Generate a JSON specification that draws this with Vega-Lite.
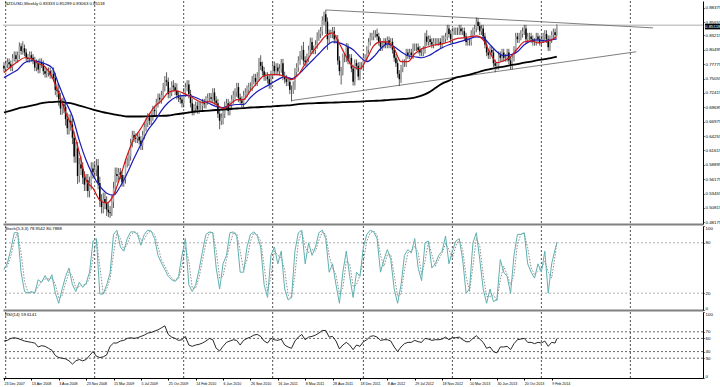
{
"$schema":"https://vega.github.io/schema/vega-lite/v6.json",
"padding":0,
"background":"white",
"spacing":0,
"config":{"view":{"stroke":null},"font":"Liberation Sans","axis":{"grid":false,"labelFont":"Liberation Sans","labelColor":"#000","tickColor":"#000","domainColor":"#000","labelFontSize":4.4,"tickSize":1,"labelPadding":1,"labelOverlap":false}},
"datasets":{
"vg":[{"d":"2007-12-30"},{"d":"2008-12-28"},{"d":"2009-12-27"},{"d":"2010-12-26"},{"d":"2012-01-01"},{"d":"2012-12-30"},{"d":"2013-12-29"},{"d":"2014-12-28"}],
"tl":[{"t":"up","d":"2011-07-31","p":0.880},{"t":"up","d":"2015-03-31","p":0.8463},{"t":"lo","d":"2011-03-13","p":0.7098},{"t":"lo","d":"2015-01-21","p":0.8015}],
"ohlc":[
{"d":"2007-12-23","o":0.775,"h":0.782,"l":0.763,"c":0.770},
{"d":"2007-12-30","o":0.770,"h":0.785,"l":0.763,"c":0.778},
{"d":"2008-01-06","o":0.778,"h":0.789,"l":0.771,"c":0.782},
{"d":"2008-01-13","o":0.782,"h":0.789,"l":0.771,"c":0.778},
{"d":"2008-01-20","o":0.778,"h":0.785,"l":0.765,"c":0.772},
{"d":"2008-01-27","o":0.772,"h":0.797,"l":0.765,"c":0.790},
{"d":"2008-02-03","o":0.790,"h":0.802,"l":0.783,"c":0.795},
{"d":"2008-02-10","o":0.795,"h":0.802,"l":0.781,"c":0.788},
{"d":"2008-02-17","o":0.788,"h":0.802,"l":0.781,"c":0.795},
{"d":"2008-02-24","o":0.795,"h":0.819,"l":0.788,"c":0.812},
{"d":"2008-03-02","o":0.812,"h":0.817,"l":0.796,"c":0.803},
{"d":"2008-03-09","o":0.803,"h":0.821,"l":0.796,"c":0.808},
{"d":"2008-03-16","o":0.808,"h":0.815,"l":0.793,"c":0.800},
{"d":"2008-03-23","o":0.800,"h":0.807,"l":0.783,"c":0.790},
{"d":"2008-03-30","o":0.790,"h":0.797,"l":0.781,"c":0.788},
{"d":"2008-04-06","o":0.788,"h":0.802,"l":0.781,"c":0.795},
{"d":"2008-04-13","o":0.795,"h":0.802,"l":0.783,"c":0.790},
{"d":"2008-04-20","o":0.790,"h":0.797,"l":0.778,"c":0.785},
{"d":"2008-04-27","o":0.785,"h":0.792,"l":0.765,"c":0.772},
{"d":"2008-05-04","o":0.772,"h":0.787,"l":0.765,"c":0.780},
{"d":"2008-05-11","o":0.780,"h":0.787,"l":0.761,"c":0.768},
{"d":"2008-05-18","o":0.768,"h":0.789,"l":0.761,"c":0.782},
{"d":"2008-05-25","o":0.782,"h":0.789,"l":0.771,"c":0.778},
{"d":"2008-06-01","o":0.778,"h":0.785,"l":0.758,"c":0.765},
{"d":"2008-06-08","o":0.765,"h":0.772,"l":0.753,"c":0.760},
{"d":"2008-06-15","o":0.760,"h":0.769,"l":0.753,"c":0.762},
{"d":"2008-06-22","o":0.762,"h":0.772,"l":0.755,"c":0.765},
{"d":"2008-06-29","o":0.765,"h":0.772,"l":0.751,"c":0.758},
{"d":"2008-07-06","o":0.758,"h":0.767,"l":0.751,"c":0.760},
{"d":"2008-07-13","o":0.760,"h":0.772,"l":0.745,"c":0.752},
{"d":"2008-07-20","o":0.752,"h":0.762,"l":0.720,"c":0.730},
{"d":"2008-07-27","o":0.730,"h":0.742,"l":0.716,"c":0.728},
{"d":"2008-08-03","o":0.728,"h":0.740,"l":0.700,"c":0.712},
{"d":"2008-08-10","o":0.712,"h":0.724,"l":0.683,"c":0.695},
{"d":"2008-08-17","o":0.695,"h":0.715,"l":0.683,"c":0.703},
{"d":"2008-08-24","o":0.703,"h":0.715,"l":0.686,"c":0.698},
{"d":"2008-08-31","o":0.698,"h":0.710,"l":0.663,"c":0.675},
{"d":"2008-09-07","o":0.675,"h":0.687,"l":0.646,"c":0.658},
{"d":"2008-09-14","o":0.658,"h":0.684,"l":0.646,"c":0.672},
{"d":"2008-09-21","o":0.672,"h":0.684,"l":0.653,"c":0.665},
{"d":"2008-09-28","o":0.665,"h":0.677,"l":0.628,"c":0.640},
{"d":"2008-10-05","o":0.640,"h":0.652,"l":0.593,"c":0.605},
{"d":"2008-10-12","o":0.605,"h":0.632,"l":0.593,"c":0.620},
{"d":"2008-10-19","o":0.620,"h":0.632,"l":0.553,"c":0.568},
{"d":"2008-10-26","o":0.568,"h":0.602,"l":0.556,"c":0.590},
{"d":"2008-11-02","o":0.590,"h":0.605,"l":0.570,"c":0.582},
{"d":"2008-11-09","o":0.582,"h":0.594,"l":0.553,"c":0.565},
{"d":"2008-11-16","o":0.565,"h":0.577,"l":0.540,"c":0.552},
{"d":"2008-11-23","o":0.552,"h":0.572,"l":0.540,"c":0.560},
{"d":"2008-11-30","o":0.560,"h":0.572,"l":0.528,"c":0.540},
{"d":"2008-12-07","o":0.540,"h":0.567,"l":0.528,"c":0.555},
{"d":"2008-12-14","o":0.555,"h":0.594,"l":0.543,"c":0.582},
{"d":"2008-12-21","o":0.582,"h":0.594,"l":0.563,"c":0.575},
{"d":"2008-12-28","o":0.575,"h":0.592,"l":0.563,"c":0.580},
{"d":"2009-01-04","o":0.580,"h":0.600,"l":0.568,"c":0.588},
{"d":"2009-01-11","o":0.588,"h":0.600,"l":0.543,"c":0.555},
{"d":"2009-01-18","o":0.555,"h":0.567,"l":0.510,"c":0.522},
{"d":"2009-01-25","o":0.522,"h":0.534,"l":0.498,"c":0.510},
{"d":"2009-02-01","o":0.510,"h":0.537,"l":0.498,"c":0.525},
{"d":"2009-02-08","o":0.525,"h":0.537,"l":0.506,"c":0.518},
{"d":"2009-02-15","o":0.518,"h":0.530,"l":0.493,"c":0.505},
{"d":"2009-02-22","o":0.505,"h":0.517,"l":0.491,"c":0.500},
{"d":"2009-03-01","o":0.500,"h":0.512,"l":0.4895,"c":0.498},
{"d":"2009-03-08","o":0.498,"h":0.532,"l":0.493,"c":0.520},
{"d":"2009-03-15","o":0.520,"h":0.557,"l":0.508,"c":0.545},
{"d":"2009-03-22","o":0.545,"h":0.584,"l":0.533,"c":0.572},
{"d":"2009-03-29","o":0.572,"h":0.584,"l":0.556,"c":0.568},
{"d":"2009-04-05","o":0.568,"h":0.583,"l":0.560,"c":0.575},
{"d":"2009-04-12","o":0.575,"h":0.583,"l":0.562,"c":0.570},
{"d":"2009-04-19","o":0.570,"h":0.578,"l":0.548,"c":0.556},
{"d":"2009-04-26","o":0.556,"h":0.570,"l":0.548,"c":0.562},
{"d":"2009-05-03","o":0.562,"h":0.600,"l":0.554,"c":0.592},
{"d":"2009-05-10","o":0.592,"h":0.603,"l":0.584,"c":0.595},
{"d":"2009-05-17","o":0.595,"h":0.613,"l":0.587,"c":0.605},
{"d":"2009-05-24","o":0.605,"h":0.638,"l":0.597,"c":0.630},
{"d":"2009-05-31","o":0.630,"h":0.653,"l":0.622,"c":0.645},
{"d":"2009-06-07","o":0.645,"h":0.653,"l":0.632,"c":0.640},
{"d":"2009-06-14","o":0.640,"h":0.648,"l":0.630,"c":0.638},
{"d":"2009-06-21","o":0.638,"h":0.650,"l":0.630,"c":0.642},
{"d":"2009-06-28","o":0.642,"h":0.650,"l":0.627,"c":0.635},
{"d":"2009-07-05","o":0.635,"h":0.643,"l":0.617,"c":0.625},
{"d":"2009-07-12","o":0.625,"h":0.653,"l":0.617,"c":0.645},
{"d":"2009-07-19","o":0.645,"h":0.668,"l":0.637,"c":0.660},
{"d":"2009-07-26","o":0.660,"h":0.676,"l":0.652,"c":0.668},
{"d":"2009-08-02","o":0.668,"h":0.686,"l":0.660,"c":0.678},
{"d":"2009-08-09","o":0.678,"h":0.686,"l":0.664,"c":0.672},
{"d":"2009-08-16","o":0.672,"h":0.688,"l":0.664,"c":0.680},
{"d":"2009-08-23","o":0.680,"h":0.700,"l":0.672,"c":0.692},
{"d":"2009-08-30","o":0.692,"h":0.700,"l":0.682,"c":0.690},
{"d":"2009-09-06","o":0.690,"h":0.713,"l":0.682,"c":0.705},
{"d":"2009-09-13","o":0.705,"h":0.723,"l":0.697,"c":0.715},
{"d":"2009-09-20","o":0.715,"h":0.723,"l":0.704,"c":0.712},
{"d":"2009-09-27","o":0.712,"h":0.728,"l":0.704,"c":0.720},
{"d":"2009-10-04","o":0.720,"h":0.743,"l":0.712,"c":0.735},
{"d":"2009-10-11","o":0.735,"h":0.756,"l":0.727,"c":0.748},
{"d":"2009-10-18","o":0.748,"h":0.763,"l":0.737,"c":0.745},
{"d":"2009-10-25","o":0.745,"h":0.753,"l":0.714,"c":0.722},
{"d":"2009-11-01","o":0.722,"h":0.734,"l":0.714,"c":0.726},
{"d":"2009-11-08","o":0.726,"h":0.746,"l":0.718,"c":0.738},
{"d":"2009-11-15","o":0.738,"h":0.748,"l":0.727,"c":0.735},
{"d":"2009-11-22","o":0.735,"h":0.743,"l":0.720,"c":0.728},
{"d":"2009-11-29","o":0.728,"h":0.742,"l":0.712,"c":0.720},
{"d":"2009-12-06","o":0.720,"h":0.728,"l":0.707,"c":0.715},
{"d":"2009-12-13","o":0.715,"h":0.723,"l":0.704,"c":0.712},
{"d":"2009-12-20","o":0.712,"h":0.720,"l":0.697,"c":0.705},
{"d":"2009-12-27","o":0.705,"h":0.733,"l":0.697,"c":0.725},
{"d":"2010-01-03","o":0.725,"h":0.743,"l":0.717,"c":0.735},
{"d":"2010-01-10","o":0.735,"h":0.748,"l":0.727,"c":0.740},
{"d":"2010-01-17","o":0.740,"h":0.748,"l":0.714,"c":0.722},
{"d":"2010-01-24","o":0.722,"h":0.730,"l":0.697,"c":0.705},
{"d":"2010-01-31","o":0.705,"h":0.713,"l":0.682,"c":0.690},
{"d":"2010-02-07","o":0.690,"h":0.703,"l":0.682,"c":0.695},
{"d":"2010-02-14","o":0.695,"h":0.708,"l":0.687,"c":0.700},
{"d":"2010-02-21","o":0.700,"h":0.708,"l":0.685,"c":0.693},
{"d":"2010-02-28","o":0.693,"h":0.708,"l":0.685,"c":0.700},
{"d":"2010-03-07","o":0.700,"h":0.708,"l":0.692,"c":0.700},
{"d":"2010-03-14","o":0.700,"h":0.713,"l":0.692,"c":0.705},
{"d":"2010-03-21","o":0.705,"h":0.713,"l":0.695,"c":0.703},
{"d":"2010-03-28","o":0.703,"h":0.718,"l":0.695,"c":0.710},
{"d":"2010-04-04","o":0.710,"h":0.723,"l":0.702,"c":0.715},
{"d":"2010-04-11","o":0.715,"h":0.724,"l":0.707,"c":0.716},
{"d":"2010-04-18","o":0.716,"h":0.724,"l":0.705,"c":0.713},
{"d":"2010-04-25","o":0.713,"h":0.733,"l":0.705,"c":0.725},
{"d":"2010-05-02","o":0.725,"h":0.733,"l":0.702,"c":0.710},
{"d":"2010-05-09","o":0.710,"h":0.718,"l":0.697,"c":0.705},
{"d":"2010-05-16","o":0.705,"h":0.713,"l":0.677,"c":0.685},
{"d":"2010-05-23","o":0.685,"h":0.693,"l":0.656,"c":0.672},
{"d":"2010-05-30","o":0.672,"h":0.686,"l":0.664,"c":0.678},
{"d":"2010-06-06","o":0.678,"h":0.693,"l":0.665,"c":0.685},
{"d":"2010-06-13","o":0.685,"h":0.708,"l":0.677,"c":0.700},
{"d":"2010-06-20","o":0.700,"h":0.713,"l":0.692,"c":0.705},
{"d":"2010-06-27","o":0.705,"h":0.713,"l":0.682,"c":0.690},
{"d":"2010-07-04","o":0.690,"h":0.708,"l":0.682,"c":0.700},
{"d":"2010-07-11","o":0.700,"h":0.720,"l":0.692,"c":0.712},
{"d":"2010-07-18","o":0.712,"h":0.728,"l":0.704,"c":0.720},
{"d":"2010-07-25","o":0.720,"h":0.733,"l":0.712,"c":0.725},
{"d":"2010-08-01","o":0.725,"h":0.743,"l":0.717,"c":0.735},
{"d":"2010-08-08","o":0.735,"h":0.743,"l":0.707,"c":0.715},
{"d":"2010-08-15","o":0.715,"h":0.723,"l":0.702,"c":0.710},
{"d":"2010-08-22","o":0.710,"h":0.718,"l":0.697,"c":0.705},
{"d":"2010-08-29","o":0.705,"h":0.728,"l":0.697,"c":0.720},
{"d":"2010-09-05","o":0.720,"h":0.733,"l":0.712,"c":0.725},
{"d":"2010-09-12","o":0.725,"h":0.738,"l":0.717,"c":0.730},
{"d":"2010-09-19","o":0.730,"h":0.743,"l":0.722,"c":0.735},
{"d":"2010-09-26","o":0.735,"h":0.744,"l":0.727,"c":0.736},
{"d":"2010-10-03","o":0.736,"h":0.756,"l":0.728,"c":0.748},
{"d":"2010-10-10","o":0.748,"h":0.760,"l":0.740,"c":0.752},
{"d":"2010-10-17","o":0.752,"h":0.760,"l":0.737,"c":0.745},
{"d":"2010-10-24","o":0.745,"h":0.763,"l":0.737,"c":0.755},
{"d":"2010-10-31","o":0.755,"h":0.790,"l":0.747,"c":0.782},
{"d":"2010-11-07","o":0.782,"h":0.795,"l":0.767,"c":0.775},
{"d":"2010-11-14","o":0.775,"h":0.783,"l":0.757,"c":0.765},
{"d":"2010-11-21","o":0.765,"h":0.773,"l":0.747,"c":0.755},
{"d":"2010-11-28","o":0.755,"h":0.763,"l":0.747,"c":0.755},
{"d":"2010-12-05","o":0.755,"h":0.763,"l":0.742,"c":0.750},
{"d":"2010-12-12","o":0.750,"h":0.758,"l":0.732,"c":0.740},
{"d":"2010-12-19","o":0.740,"h":0.766,"l":0.732,"c":0.758},
{"d":"2010-12-26","o":0.758,"h":0.783,"l":0.750,"c":0.775},
{"d":"2011-01-02","o":0.775,"h":0.783,"l":0.757,"c":0.765},
{"d":"2011-01-09","o":0.765,"h":0.780,"l":0.757,"c":0.772},
{"d":"2011-01-16","o":0.772,"h":0.780,"l":0.757,"c":0.765},
{"d":"2011-01-23","o":0.765,"h":0.778,"l":0.757,"c":0.770},
{"d":"2011-01-30","o":0.770,"h":0.788,"l":0.762,"c":0.780},
{"d":"2011-02-06","o":0.780,"h":0.788,"l":0.748,"c":0.756},
{"d":"2011-02-13","o":0.756,"h":0.764,"l":0.742,"c":0.750},
{"d":"2011-02-20","o":0.750,"h":0.758,"l":0.737,"c":0.745},
{"d":"2011-02-27","o":0.745,"h":0.753,"l":0.737,"c":0.745},
{"d":"2011-03-06","o":0.745,"h":0.753,"l":0.722,"c":0.730},
{"d":"2011-03-13","o":0.730,"h":0.738,"l":0.708,"c":0.730},
{"d":"2011-03-20","o":0.730,"h":0.746,"l":0.722,"c":0.738},
{"d":"2011-03-27","o":0.738,"h":0.771,"l":0.730,"c":0.763},
{"d":"2011-04-03","o":0.763,"h":0.780,"l":0.755,"c":0.772},
{"d":"2011-04-10","o":0.772,"h":0.793,"l":0.764,"c":0.785},
{"d":"2011-04-17","o":0.785,"h":0.803,"l":0.777,"c":0.795},
{"d":"2011-04-24","o":0.795,"h":0.813,"l":0.787,"c":0.805},
{"d":"2011-05-01","o":0.805,"h":0.820,"l":0.777,"c":0.785},
{"d":"2011-05-08","o":0.785,"h":0.793,"l":0.774,"c":0.782},
{"d":"2011-05-15","o":0.782,"h":0.798,"l":0.774,"c":0.790},
{"d":"2011-05-22","o":0.790,"h":0.813,"l":0.782,"c":0.805},
{"d":"2011-05-29","o":0.805,"h":0.828,"l":0.797,"c":0.820},
{"d":"2011-06-05","o":0.820,"h":0.828,"l":0.797,"c":0.805},
{"d":"2011-06-12","o":0.805,"h":0.813,"l":0.797,"c":0.805},
{"d":"2011-06-19","o":0.805,"h":0.823,"l":0.797,"c":0.815},
{"d":"2011-06-26","o":0.815,"h":0.838,"l":0.807,"c":0.830},
{"d":"2011-07-03","o":0.830,"h":0.843,"l":0.822,"c":0.835},
{"d":"2011-07-10","o":0.835,"h":0.848,"l":0.827,"c":0.840},
{"d":"2011-07-17","o":0.840,"h":0.868,"l":0.832,"c":0.860},
{"d":"2011-07-24","o":0.860,"h":0.877,"l":0.852,"c":0.872},
{"d":"2011-07-31","o":0.872,"h":0.880,"l":0.835,"c":0.858},
{"d":"2011-08-07","o":0.858,"h":0.866,"l":0.805,"c":0.825},
{"d":"2011-08-14","o":0.825,"h":0.843,"l":0.817,"c":0.835},
{"d":"2011-08-21","o":0.835,"h":0.843,"l":0.827,"c":0.835},
{"d":"2011-08-28","o":0.835,"h":0.848,"l":0.827,"c":0.840},
{"d":"2011-09-04","o":0.840,"h":0.848,"l":0.817,"c":0.825},
{"d":"2011-09-11","o":0.825,"h":0.833,"l":0.817,"c":0.825},
{"d":"2011-09-18","o":0.825,"h":0.833,"l":0.777,"c":0.785},
{"d":"2011-09-25","o":0.785,"h":0.793,"l":0.757,"c":0.765},
{"d":"2011-10-02","o":0.765,"h":0.773,"l":0.740,"c":0.765},
{"d":"2011-10-09","o":0.765,"h":0.798,"l":0.757,"c":0.790},
{"d":"2011-10-16","o":0.790,"h":0.798,"l":0.782,"c":0.790},
{"d":"2011-10-23","o":0.790,"h":0.818,"l":0.782,"c":0.810},
{"d":"2011-10-30","o":0.810,"h":0.817,"l":0.778,"c":0.785},
{"d":"2011-11-06","o":0.785,"h":0.797,"l":0.778,"c":0.790},
{"d":"2011-11-13","o":0.790,"h":0.797,"l":0.763,"c":0.770},
{"d":"2011-11-20","o":0.770,"h":0.777,"l":0.738,"c":0.745},
{"d":"2011-11-27","o":0.745,"h":0.787,"l":0.738,"c":0.780},
{"d":"2011-12-04","o":0.780,"h":0.787,"l":0.768,"c":0.775},
{"d":"2011-12-11","o":0.775,"h":0.782,"l":0.748,"c":0.755},
{"d":"2011-12-18","o":0.755,"h":0.782,"l":0.748,"c":0.775},
{"d":"2011-12-25","o":0.775,"h":0.782,"l":0.768,"c":0.775},
{"d":"2012-01-01","o":0.775,"h":0.797,"l":0.768,"c":0.790},
{"d":"2012-01-08","o":0.790,"h":0.797,"l":0.783,"c":0.790},
{"d":"2012-01-15","o":0.790,"h":0.812,"l":0.783,"c":0.805},
{"d":"2012-01-22","o":0.805,"h":0.827,"l":0.798,"c":0.820},
{"d":"2012-01-29","o":0.820,"h":0.837,"l":0.813,"c":0.830},
{"d":"2012-02-05","o":0.830,"h":0.837,"l":0.823,"c":0.830},
{"d":"2012-02-12","o":0.830,"h":0.842,"l":0.823,"c":0.835},
{"d":"2012-02-19","o":0.835,"h":0.842,"l":0.828,"c":0.835},
{"d":"2012-02-26","o":0.835,"h":0.845,"l":0.823,"c":0.830},
{"d":"2012-03-04","o":0.830,"h":0.837,"l":0.813,"c":0.820},
{"d":"2012-03-11","o":0.820,"h":0.827,"l":0.803,"c":0.810},
{"d":"2012-03-18","o":0.810,"h":0.822,"l":0.803,"c":0.815},
{"d":"2012-03-25","o":0.815,"h":0.827,"l":0.808,"c":0.820},
{"d":"2012-04-01","o":0.820,"h":0.827,"l":0.808,"c":0.815},
{"d":"2012-04-08","o":0.815,"h":0.830,"l":0.808,"c":0.823},
{"d":"2012-04-15","o":0.823,"h":0.830,"l":0.808,"c":0.815},
{"d":"2012-04-22","o":0.815,"h":0.827,"l":0.808,"c":0.820},
{"d":"2012-04-29","o":0.820,"h":0.827,"l":0.798,"c":0.805},
{"d":"2012-05-06","o":0.805,"h":0.812,"l":0.783,"c":0.790},
{"d":"2012-05-13","o":0.790,"h":0.797,"l":0.773,"c":0.780},
{"d":"2012-05-20","o":0.780,"h":0.787,"l":0.753,"c":0.760},
{"d":"2012-05-27","o":0.760,"h":0.767,"l":0.737,"c":0.750},
{"d":"2012-06-03","o":0.750,"h":0.777,"l":0.743,"c":0.770},
{"d":"2012-06-10","o":0.770,"h":0.787,"l":0.763,"c":0.780},
{"d":"2012-06-17","o":0.780,"h":0.787,"l":0.773,"c":0.780},
{"d":"2012-06-24","o":0.780,"h":0.807,"l":0.773,"c":0.800},
{"d":"2012-07-01","o":0.800,"h":0.807,"l":0.788,"c":0.795},
{"d":"2012-07-08","o":0.795,"h":0.807,"l":0.788,"c":0.800},
{"d":"2012-07-15","o":0.800,"h":0.807,"l":0.788,"c":0.795},
{"d":"2012-07-22","o":0.795,"h":0.817,"l":0.788,"c":0.810},
{"d":"2012-07-29","o":0.810,"h":0.817,"l":0.803,"c":0.810},
{"d":"2012-08-05","o":0.810,"h":0.817,"l":0.803,"c":0.810},
{"d":"2012-08-12","o":0.810,"h":0.817,"l":0.798,"c":0.805},
{"d":"2012-08-19","o":0.805,"h":0.812,"l":0.793,"c":0.800},
{"d":"2012-08-26","o":0.800,"h":0.807,"l":0.793,"c":0.800},
{"d":"2012-09-02","o":0.800,"h":0.812,"l":0.793,"c":0.805},
{"d":"2012-09-09","o":0.805,"h":0.837,"l":0.798,"c":0.830},
{"d":"2012-09-16","o":0.830,"h":0.842,"l":0.813,"c":0.820},
{"d":"2012-09-23","o":0.820,"h":0.832,"l":0.813,"c":0.825},
{"d":"2012-09-30","o":0.825,"h":0.832,"l":0.813,"c":0.820},
{"d":"2012-10-07","o":0.820,"h":0.827,"l":0.808,"c":0.815},
{"d":"2012-10-14","o":0.815,"h":0.827,"l":0.808,"c":0.820},
{"d":"2012-10-21","o":0.820,"h":0.827,"l":0.813,"c":0.820},
{"d":"2012-10-28","o":0.820,"h":0.827,"l":0.813,"c":0.820},
{"d":"2012-11-04","o":0.820,"h":0.827,"l":0.813,"c":0.820},
{"d":"2012-11-11","o":0.820,"h":0.827,"l":0.808,"c":0.815},
{"d":"2012-11-18","o":0.815,"h":0.832,"l":0.808,"c":0.825},
{"d":"2012-11-25","o":0.825,"h":0.832,"l":0.818,"c":0.825},
{"d":"2012-12-02","o":0.825,"h":0.837,"l":0.818,"c":0.830},
{"d":"2012-12-09","o":0.830,"h":0.852,"l":0.823,"c":0.845},
{"d":"2012-12-16","o":0.845,"h":0.852,"l":0.828,"c":0.835},
{"d":"2012-12-23","o":0.835,"h":0.842,"l":0.818,"c":0.825},
{"d":"2012-12-30","o":0.825,"h":0.847,"l":0.818,"c":0.840},
{"d":"2013-01-06","o":0.840,"h":0.847,"l":0.833,"c":0.840},
{"d":"2013-01-13","o":0.840,"h":0.847,"l":0.833,"c":0.840},
{"d":"2013-01-20","o":0.840,"h":0.847,"l":0.833,"c":0.840},
{"d":"2013-01-27","o":0.840,"h":0.852,"l":0.833,"c":0.845},
{"d":"2013-02-03","o":0.845,"h":0.852,"l":0.833,"c":0.840},
{"d":"2013-02-10","o":0.840,"h":0.847,"l":0.833,"c":0.840},
{"d":"2013-02-17","o":0.840,"h":0.847,"l":0.823,"c":0.830},
{"d":"2013-02-24","o":0.830,"h":0.837,"l":0.813,"c":0.820},
{"d":"2013-03-03","o":0.820,"h":0.827,"l":0.813,"c":0.820},
{"d":"2013-03-10","o":0.820,"h":0.827,"l":0.813,"c":0.820},
{"d":"2013-03-17","o":0.820,"h":0.842,"l":0.813,"c":0.835},
{"d":"2013-03-24","o":0.835,"h":0.847,"l":0.828,"c":0.840},
{"d":"2013-03-31","o":0.840,"h":0.852,"l":0.833,"c":0.845},
{"d":"2013-04-07","o":0.845,"h":0.866,"l":0.838,"c":0.858},
{"d":"2013-04-14","o":0.858,"h":0.865,"l":0.843,"c":0.850},
{"d":"2013-04-21","o":0.850,"h":0.857,"l":0.833,"c":0.840},
{"d":"2013-04-28","o":0.840,"h":0.852,"l":0.833,"c":0.845},
{"d":"2013-05-05","o":0.845,"h":0.852,"l":0.823,"c":0.830},
{"d":"2013-05-12","o":0.830,"h":0.837,"l":0.808,"c":0.815},
{"d":"2013-05-19","o":0.815,"h":0.822,"l":0.793,"c":0.800},
{"d":"2013-05-26","o":0.800,"h":0.807,"l":0.788,"c":0.795},
{"d":"2013-06-02","o":0.795,"h":0.812,"l":0.788,"c":0.805},
{"d":"2013-06-09","o":0.805,"h":0.812,"l":0.793,"c":0.800},
{"d":"2013-06-16","o":0.800,"h":0.807,"l":0.773,"c":0.780},
{"d":"2013-06-23","o":0.780,"h":0.787,"l":0.763,"c":0.775},
{"d":"2013-06-30","o":0.775,"h":0.782,"l":0.768,"c":0.775},
{"d":"2013-07-07","o":0.775,"h":0.802,"l":0.768,"c":0.795},
{"d":"2013-07-14","o":0.795,"h":0.802,"l":0.783,"c":0.790},
{"d":"2013-07-21","o":0.790,"h":0.807,"l":0.783,"c":0.800},
{"d":"2013-07-28","o":0.800,"h":0.807,"l":0.783,"c":0.790},
{"d":"2013-08-04","o":0.790,"h":0.797,"l":0.783,"c":0.790},
{"d":"2013-08-11","o":0.790,"h":0.807,"l":0.783,"c":0.800},
{"d":"2013-08-18","o":0.800,"h":0.807,"l":0.778,"c":0.785},
{"d":"2013-08-25","o":0.785,"h":0.792,"l":0.768,"c":0.775},
{"d":"2013-09-01","o":0.775,"h":0.797,"l":0.768,"c":0.790},
{"d":"2013-09-08","o":0.790,"h":0.812,"l":0.783,"c":0.805},
{"d":"2013-09-15","o":0.805,"h":0.837,"l":0.798,"c":0.830},
{"d":"2013-09-22","o":0.830,"h":0.837,"l":0.818,"c":0.825},
{"d":"2013-09-29","o":0.825,"h":0.837,"l":0.818,"c":0.830},
{"d":"2013-10-06","o":0.830,"h":0.842,"l":0.823,"c":0.835},
{"d":"2013-10-13","o":0.835,"h":0.847,"l":0.828,"c":0.840},
{"d":"2013-10-20","o":0.840,"h":0.852,"l":0.833,"c":0.845},
{"d":"2013-10-27","o":0.845,"h":0.852,"l":0.818,"c":0.825},
{"d":"2013-11-03","o":0.825,"h":0.837,"l":0.818,"c":0.830},
{"d":"2013-11-10","o":0.830,"h":0.837,"l":0.823,"c":0.830},
{"d":"2013-11-17","o":0.830,"h":0.837,"l":0.818,"c":0.825},
{"d":"2013-11-24","o":0.825,"h":0.832,"l":0.813,"c":0.820},
{"d":"2013-12-01","o":0.820,"h":0.827,"l":0.813,"c":0.820},
{"d":"2013-12-08","o":0.820,"h":0.837,"l":0.813,"c":0.830},
{"d":"2013-12-15","o":0.830,"h":0.837,"l":0.818,"c":0.825},
{"d":"2013-12-22","o":0.825,"h":0.832,"l":0.813,"c":0.820},
{"d":"2013-12-29","o":0.820,"h":0.832,"l":0.813,"c":0.825},
{"d":"2014-01-05","o":0.825,"h":0.837,"l":0.818,"c":0.830},
{"d":"2014-01-12","o":0.830,"h":0.842,"l":0.823,"c":0.835},
{"d":"2014-01-19","o":0.835,"h":0.842,"l":0.818,"c":0.825},
{"d":"2014-01-26","o":0.825,"h":0.832,"l":0.803,"c":0.810},
{"d":"2014-02-02","o":0.810,"h":0.832,"l":0.803,"c":0.825},
{"d":"2014-02-09","o":0.825,"h":0.840,"l":0.818,"c":0.833},
{"d":"2014-02-16","o":0.833,"h":0.845,"l":0.826,"c":0.838},
{"d":"2014-02-23","o":0.838,"h":0.845,"l":0.826,"c":0.833},
{"d":"2014-03-02","o":0.8333,"h":0.853,"l":0.8306,"c":0.8512}
],
"ma":[
{"d":"2007-12-23","r":0.7622,"b":0.7529,"m":0.6874},
{"d":"2008-01-20","r":0.7734,"b":0.7603,"m":0.6911},
{"d":"2008-02-17","r":0.7828,"b":0.7678,"m":0.6949},
{"d":"2008-03-16","r":0.7902,"b":0.7809,"m":0.6977},
{"d":"2008-04-13","r":0.7884,"b":0.7846,"m":0.7005},
{"d":"2008-05-11","r":0.7796,"b":0.7828,"m":0.7033},
{"d":"2008-06-08","r":0.7734,"b":0.7790,"m":0.7061},
{"d":"2008-07-06","r":0.7547,"b":0.7716,"m":0.7070},
{"d":"2008-08-03","r":0.7229,"b":0.7398,"m":0.7080},
{"d":"2008-08-31","r":0.6874,"b":0.7080,"m":0.7061},
{"d":"2008-09-28","r":0.6575,"b":0.6799,"m":0.7042},
{"d":"2008-10-26","r":0.6126,"b":0.6350,"m":0.7005},
{"d":"2008-11-23","r":0.5603,"b":0.5976,"m":0.6968},
{"d":"2008-12-21","r":0.5453,"b":0.5696,"m":0.6930},
{"d":"2009-01-18","r":0.5228,"b":0.5490,"m":0.6893},
{"d":"2009-02-15","r":0.5172,"b":0.5359,"m":0.6865},
{"d":"2009-03-15","r":0.5322,"b":0.5322,"m":0.6837},
{"d":"2009-04-12","r":0.5677,"b":0.5490,"m":0.6818},
{"d":"2009-05-10","r":0.6070,"b":0.5733,"m":0.6799},
{"d":"2009-06-07","r":0.6388,"b":0.6014,"m":0.6799},
{"d":"2009-07-05","r":0.6575,"b":0.6276,"m":0.6799},
{"d":"2009-08-02","r":0.6799,"b":0.6537,"m":0.6803},
{"d":"2009-08-30","r":0.6986,"b":0.6706,"m":0.6808},
{"d":"2009-09-27","r":0.7098,"b":0.6911,"m":0.6812},
{"d":"2009-10-25","r":0.7248,"b":0.7061,"m":0.6818},
{"d":"2009-11-22","r":0.7285,"b":0.7155,"m":0.6837},
{"d":"2009-12-20","r":0.7248,"b":0.7192,"m":0.6855},
{"d":"2010-01-17","r":0.7192,"b":0.7192,"m":0.6874},
{"d":"2010-02-14","r":0.7117,"b":0.7155,"m":0.6893},
{"d":"2010-03-14","r":0.7061,"b":0.7098,"m":0.6902},
{"d":"2010-04-11","r":0.7080,"b":0.7042,"m":0.6911},
{"d":"2010-05-09","r":0.7024,"b":0.6986,"m":0.6921},
{"d":"2010-06-06","r":0.6949,"b":0.6968,"m":0.6930},
{"d":"2010-07-04","r":0.7024,"b":0.7005,"m":0.6940},
{"d":"2010-08-01","r":0.7117,"b":0.7024,"m":0.6949},
{"d":"2010-08-29","r":0.7117,"b":0.7024,"m":0.6958},
{"d":"2010-09-26","r":0.7285,"b":0.7155,"m":0.6968},
{"d":"2010-10-24","r":0.7435,"b":0.7267,"m":0.6973},
{"d":"2010-11-21","r":0.7566,"b":0.7342,"m":0.6981},
{"d":"2010-12-19","r":0.7585,"b":0.7416,"m":0.6986},
{"d":"2011-01-16","r":0.7585,"b":0.7491,"m":0.6996},
{"d":"2011-02-13","r":0.7547,"b":0.7547,"m":0.7005},
{"d":"2011-03-13","r":0.7491,"b":0.7510,"m":0.7014},
{"d":"2011-04-10","r":0.7585,"b":0.7585,"m":0.7033},
{"d":"2011-05-08","r":0.7790,"b":0.7716,"m":0.7042},
{"d":"2011-06-05","r":0.7996,"b":0.7846,"m":0.7046},
{"d":"2011-07-03","r":0.8164,"b":0.7977,"m":0.7052},
{"d":"2011-07-31","r":0.8314,"b":0.8108,"m":0.7057},
{"d":"2011-08-28","r":0.8370,"b":0.8202,"m":0.7061},
{"d":"2011-09-25","r":0.8164,"b":0.8183,"m":0.7065},
{"d":"2011-10-23","r":0.7921,"b":0.8127,"m":0.7070},
{"d":"2011-11-20","r":0.7734,"b":0.8052,"m":0.7074},
{"d":"2011-12-18","r":0.7697,"b":0.7921,"m":0.7080},
{"d":"2012-01-15","r":0.7884,"b":0.7828,"m":0.7087},
{"d":"2012-02-12","r":0.8127,"b":0.7921,"m":0.7093},
{"d":"2012-03-11","r":0.8202,"b":0.8071,"m":0.7098},
{"d":"2012-04-08","r":0.8202,"b":0.8164,"m":0.7108},
{"d":"2012-05-06","r":0.8071,"b":0.8108,"m":0.7117},
{"d":"2012-06-03","r":0.7828,"b":0.8015,"m":0.7126},
{"d":"2012-07-01","r":0.7828,"b":0.7940,"m":0.7136},
{"d":"2012-07-29","r":0.7977,"b":0.7921,"m":0.7155},
{"d":"2012-08-26","r":0.8071,"b":0.7902,"m":0.7192},
{"d":"2012-09-23","r":0.8108,"b":0.7940,"m":0.7248},
{"d":"2012-10-21","r":0.8146,"b":0.8015,"m":0.7332},
{"d":"2012-11-18","r":0.8164,"b":0.8090,"m":0.7416},
{"d":"2012-12-16","r":0.8202,"b":0.8146,"m":0.7472},
{"d":"2013-01-13","r":0.8258,"b":0.8183,"m":0.7529},
{"d":"2013-02-10","r":0.8276,"b":0.8220,"m":0.7557},
{"d":"2013-03-10","r":0.8295,"b":0.8258,"m":0.7585},
{"d":"2013-04-07","r":0.8314,"b":0.8295,"m":0.7622},
{"d":"2013-05-05","r":0.8239,"b":0.8276,"m":0.7659},
{"d":"2013-06-02","r":0.7996,"b":0.8146,"m":0.7687},
{"d":"2013-06-30","r":0.7809,"b":0.8015,"m":0.7716},
{"d":"2013-07-28","r":0.7846,"b":0.7940,"m":0.7734},
{"d":"2013-08-25","r":0.7921,"b":0.7958,"m":0.7762},
{"d":"2013-09-22","r":0.8071,"b":0.8015,"m":0.7781},
{"d":"2013-10-20","r":0.8202,"b":0.8146,"m":0.7809},
{"d":"2013-11-17","r":0.8220,"b":0.8220,"m":0.7828},
{"d":"2013-12-15","r":0.8183,"b":0.8239,"m":0.7856},
{"d":"2014-01-12","r":0.8202,"b":0.8220,"m":0.7875},
{"d":"2014-02-09","r":0.8239,"b":0.8239,"m":0.7902},
{"d":"2014-03-02","r":0.8295,"b":0.8258,"m":0.7921}
],
"osc":[
{"d":"2007-12-23","sk":48,"sd":50,"rsi":56},
{"d":"2008-01-06","sk":56,"sd":52,"rsi":57},
{"d":"2008-01-20","sk":72,"sd":64,"rsi":60},
{"d":"2008-02-03","sk":92,"sd":82,"rsi":61},
{"d":"2008-02-17","sk":92,"sd":92,"rsi":60},
{"d":"2008-03-02","sk":45,"sd":68,"rsi":58},
{"d":"2008-03-16","sk":22,"sd":34,"rsi":56},
{"d":"2008-03-30","sk":20,"sd":21,"rsi":55},
{"d":"2008-04-13","sk":22,"sd":21,"rsi":54},
{"d":"2008-04-27","sk":20,"sd":21,"rsi":53},
{"d":"2008-05-11","sk":36,"sd":28,"rsi":47},
{"d":"2008-05-25","sk":33,"sd":34,"rsi":49},
{"d":"2008-06-08","sk":41,"sd":37,"rsi":48},
{"d":"2008-06-22","sk":34,"sd":37,"rsi":45},
{"d":"2008-07-06","sk":42,"sd":38,"rsi":42},
{"d":"2008-07-20","sk":20,"sd":31,"rsi":34},
{"d":"2008-08-03","sk":8,"sd":14,"rsi":31},
{"d":"2008-08-17","sk":25,"sd":17,"rsi":30},
{"d":"2008-08-31","sk":40,"sd":32,"rsi":29},
{"d":"2008-09-14","sk":50,"sd":45,"rsi":26},
{"d":"2008-09-28","sk":30,"sd":40,"rsi":21},
{"d":"2008-10-12","sk":22,"sd":26,"rsi":26},
{"d":"2008-10-26","sk":33,"sd":28,"rsi":28},
{"d":"2008-11-09","sk":27,"sd":30,"rsi":26},
{"d":"2008-11-23","sk":32,"sd":30,"rsi":28},
{"d":"2008-12-07","sk":45,"sd":38,"rsi":34},
{"d":"2008-12-21","sk":82,"sd":63,"rsi":40},
{"d":"2009-01-04","sk":85,"sd":84,"rsi":33},
{"d":"2009-01-18","sk":19,"sd":52,"rsi":31},
{"d":"2009-02-01","sk":19,"sd":19,"rsi":32},
{"d":"2009-02-15","sk":30,"sd":25,"rsi":35},
{"d":"2009-03-01","sk":44,"sd":37,"rsi":48},
{"d":"2009-03-15","sk":90,"sd":67,"rsi":53},
{"d":"2009-03-29","sk":95,"sd":92,"rsi":53},
{"d":"2009-04-12","sk":75,"sd":85,"rsi":56},
{"d":"2009-04-26","sk":70,"sd":72,"rsi":57},
{"d":"2009-05-10","sk":85,"sd":78,"rsi":60},
{"d":"2009-05-24","sk":93,"sd":89,"rsi":61},
{"d":"2009-06-07","sk":93,"sd":93,"rsi":60},
{"d":"2009-06-21","sk":90,"sd":92,"rsi":61},
{"d":"2009-07-05","sk":77,"sd":83,"rsi":63},
{"d":"2009-07-19","sk":90,"sd":84,"rsi":65},
{"d":"2009-08-02","sk":95,"sd":92,"rsi":68},
{"d":"2009-08-16","sk":94,"sd":94,"rsi":69},
{"d":"2009-08-30","sk":85,"sd":90,"rsi":71},
{"d":"2009-09-13","sk":65,"sd":75,"rsi":73},
{"d":"2009-09-27","sk":56,"sd":60,"rsi":76},
{"d":"2009-10-11","sk":48,"sd":52,"rsi":79},
{"d":"2009-10-25","sk":40,"sd":44,"rsi":66},
{"d":"2009-11-08","sk":36,"sd":38,"rsi":62},
{"d":"2009-11-22","sk":34,"sd":35,"rsi":60},
{"d":"2009-12-06","sk":40,"sd":37,"rsi":57},
{"d":"2009-12-20","sk":65,"sd":52,"rsi":58},
{"d":"2010-01-03","sk":85,"sd":75,"rsi":63},
{"d":"2010-01-17","sk":30,"sd":58,"rsi":50},
{"d":"2010-01-31","sk":22,"sd":26,"rsi":48},
{"d":"2010-02-14","sk":30,"sd":26,"rsi":50},
{"d":"2010-02-28","sk":48,"sd":39,"rsi":51},
{"d":"2010-03-14","sk":70,"sd":59,"rsi":53},
{"d":"2010-03-28","sk":90,"sd":80,"rsi":56},
{"d":"2010-04-11","sk":93,"sd":92,"rsi":60},
{"d":"2010-04-25","sk":92,"sd":92,"rsi":58},
{"d":"2010-05-09","sk":50,"sd":71,"rsi":45},
{"d":"2010-05-23","sk":25,"sd":38,"rsi":41},
{"d":"2010-06-06","sk":55,"sd":40,"rsi":48},
{"d":"2010-06-20","sk":65,"sd":60,"rsi":54},
{"d":"2010-07-04","sk":92,"sd":78,"rsi":56},
{"d":"2010-07-18","sk":93,"sd":92,"rsi":58},
{"d":"2010-08-01","sk":88,"sd":91,"rsi":57},
{"d":"2010-08-15","sk":45,"sd":70,"rsi":50},
{"d":"2010-08-29","sk":45,"sd":48,"rsi":57},
{"d":"2010-09-12","sk":75,"sd":60,"rsi":60},
{"d":"2010-09-26","sk":90,"sd":82,"rsi":62},
{"d":"2010-10-10","sk":93,"sd":92,"rsi":65},
{"d":"2010-10-24","sk":88,"sd":90,"rsi":66},
{"d":"2010-11-07","sk":75,"sd":82,"rsi":63},
{"d":"2010-11-21","sk":30,"sd":52,"rsi":56},
{"d":"2010-12-05","sk":15,"sd":22,"rsi":53},
{"d":"2010-12-19","sk":65,"sd":40,"rsi":60},
{"d":"2011-01-02","sk":75,"sd":70,"rsi":58},
{"d":"2011-01-16","sk":55,"sd":65,"rsi":57},
{"d":"2011-01-30","sk":70,"sd":62,"rsi":59},
{"d":"2011-02-13","sk":25,"sd":48,"rsi":50},
{"d":"2011-02-27","sk":12,"sd":18,"rsi":47},
{"d":"2011-03-13","sk":15,"sd":14,"rsi":45},
{"d":"2011-03-27","sk":70,"sd":42,"rsi":56},
{"d":"2011-04-10","sk":92,"sd":81,"rsi":62},
{"d":"2011-04-24","sk":95,"sd":93,"rsi":66},
{"d":"2011-05-08","sk":55,"sd":75,"rsi":58},
{"d":"2011-05-22","sk":80,"sd":68,"rsi":62},
{"d":"2011-06-05","sk":65,"sd":72,"rsi":63},
{"d":"2011-06-19","sk":75,"sd":70,"rsi":65},
{"d":"2011-07-03","sk":92,"sd":83,"rsi":68},
{"d":"2011-07-17","sk":95,"sd":93,"rsi":72},
{"d":"2011-07-31","sk":85,"sd":90,"rsi":72},
{"d":"2011-08-14","sk":45,"sd":65,"rsi":62},
{"d":"2011-08-28","sk":55,"sd":50,"rsi":63},
{"d":"2011-09-11","sk":30,"sd":42,"rsi":56},
{"d":"2011-09-25","sk":8,"sd":19,"rsi":44},
{"d":"2011-10-09","sk":45,"sd":26,"rsi":50},
{"d":"2011-10-23","sk":70,"sd":58,"rsi":54},
{"d":"2011-11-06","sk":40,"sd":55,"rsi":50},
{"d":"2011-11-20","sk":15,"sd":28,"rsi":43},
{"d":"2011-12-04","sk":45,"sd":30,"rsi":50},
{"d":"2011-12-18","sk":40,"sd":42,"rsi":48},
{"d":"2012-01-01","sk":75,"sd":58,"rsi":55},
{"d":"2012-01-15","sk":90,"sd":82,"rsi":58},
{"d":"2012-01-29","sk":95,"sd":92,"rsi":63},
{"d":"2012-02-12","sk":93,"sd":94,"rsi":64},
{"d":"2012-02-26","sk":85,"sd":89,"rsi":62},
{"d":"2012-03-11","sk":45,"sd":65,"rsi":57},
{"d":"2012-03-25","sk":60,"sd":52,"rsi":58},
{"d":"2012-04-08","sk":72,"sd":66,"rsi":58},
{"d":"2012-04-22","sk":60,"sd":66,"rsi":56},
{"d":"2012-05-06","sk":25,"sd":42,"rsi":47},
{"d":"2012-05-20","sk":8,"sd":16,"rsi":40},
{"d":"2012-06-03","sk":30,"sd":19,"rsi":47},
{"d":"2012-06-17","sk":65,"sd":48,"rsi":52},
{"d":"2012-07-01","sk":72,"sd":68,"rsi":54},
{"d":"2012-07-15","sk":68,"sd":70,"rsi":54},
{"d":"2012-07-29","sk":85,"sd":76,"rsi":57},
{"d":"2012-08-12","sk":50,"sd":68,"rsi":55},
{"d":"2012-08-26","sk":35,"sd":42,"rsi":54},
{"d":"2012-09-09","sk":80,"sd":58,"rsi":60},
{"d":"2012-09-23","sk":82,"sd":81,"rsi":59},
{"d":"2012-10-07","sk":50,"sd":66,"rsi":57},
{"d":"2012-10-21","sk":55,"sd":52,"rsi":58},
{"d":"2012-11-04","sk":65,"sd":60,"rsi":58},
{"d":"2012-11-18","sk":70,"sd":68,"rsi":59},
{"d":"2012-12-02","sk":88,"sd":79,"rsi":62},
{"d":"2012-12-16","sk":55,"sd":72,"rsi":58},
{"d":"2012-12-30","sk":70,"sd":62,"rsi":61},
{"d":"2013-01-13","sk":82,"sd":76,"rsi":61},
{"d":"2013-01-27","sk":85,"sd":84,"rsi":62},
{"d":"2013-02-10","sk":60,"sd":72,"rsi":58},
{"d":"2013-02-24","sk":20,"sd":40,"rsi":55},
{"d":"2013-03-10","sk":25,"sd":22,"rsi":55},
{"d":"2013-03-24","sk":80,"sd":52,"rsi":60},
{"d":"2013-04-07","sk":92,"sd":86,"rsi":64},
{"d":"2013-04-21","sk":60,"sd":76,"rsi":59},
{"d":"2013-05-05","sk":25,"sd":42,"rsi":54},
{"d":"2013-05-19","sk":8,"sd":16,"rsi":45},
{"d":"2013-06-02","sk":25,"sd":16,"rsi":47},
{"d":"2013-06-16","sk":10,"sd":18,"rsi":40},
{"d":"2013-06-30","sk":12,"sd":11,"rsi":38},
{"d":"2013-07-14","sk":60,"sd":36,"rsi":47},
{"d":"2013-07-28","sk":45,"sd":52,"rsi":47},
{"d":"2013-08-11","sk":40,"sd":42,"rsi":48},
{"d":"2013-08-25","sk":20,"sd":30,"rsi":43},
{"d":"2013-09-08","sk":65,"sd":42,"rsi":52},
{"d":"2013-09-22","sk":90,"sd":78,"rsi":58},
{"d":"2013-10-06","sk":90,"sd":90,"rsi":59},
{"d":"2013-10-20","sk":92,"sd":91,"rsi":60},
{"d":"2013-11-03","sk":55,"sd":74,"rsi":54},
{"d":"2013-11-17","sk":45,"sd":50,"rsi":54},
{"d":"2013-12-01","sk":38,"sd":42,"rsi":52},
{"d":"2013-12-15","sk":55,"sd":46,"rsi":54},
{"d":"2013-12-29","sk":45,"sd":50,"rsi":53},
{"d":"2014-01-12","sk":70,"sd":58,"rsi":56},
{"d":"2014-01-26","sk":20,"sd":45,"rsi":48},
{"d":"2014-02-09","sk":55,"sd":38,"rsi":54},
{"d":"2014-02-23","sk":72,"sd":64,"rsi":53},
{"d":"2014-03-02","sk":79,"sd":81,"rsi":59.6}
]
},
"vconcat":[
{
"width":700,"height":223,
"layer":[
{"data":{"name":"vg"},"mark":{"type":"rule","color":"#222","strokeDash":[2,2],"strokeWidth":0.8},
 "encoding":{"x":{"field":"d","type":"temporal","scale":{"type":"utc","domain":[{"year":2007,"month":12,"date":19,"utc":true},{"year":2015,"month":10,"date":21,"utc":true}]},"axis":{"orient":"bottom","labels":false,"ticks":false,"domain":true,"domainColor":"#808080","domainWidth":2,"title":null,"grid":false}}}},
{"data":{"values":[{"p":0.85118}]},"mark":{"type":"rule","color":"#c8c8c8","strokeWidth":1.5},
 "encoding":{"y":{"field":"p","type":"quantitative","scale":{"domain":[0.478,0.8968],"zero":false,"nice":false},"axis":{"orient":"right","title":null,"values":[0.88375,0.85655,0.83215,0.80495,0.77775,0.75055,0.72415,0.69695,0.66975,0.64255,0.61615,0.58895,0.56175,0.53455,0.50815,0.48175],"tickCount":100,"format":".5f","labelOverlap":false,"grid":false}}}},
{"data":{"name":"tl"},"mark":{"type":"line","color":"#707070","strokeWidth":0.9},
 "encoding":{"x":{"field":"d","type":"temporal"},"y":{"field":"p","type":"quantitative"},"detail":{"field":"t"}}},
{"data":{"name":"ohlc"},"mark":{"type":"rule","color":"#333","strokeWidth":0.8},
 "encoding":{"x":{"field":"d","type":"temporal"},"y":{"field":"l","type":"quantitative"},"y2":{"field":"h"}}},
{"data":{"name":"ohlc"},"mark":{"type":"rule","strokeWidth":1.5},
 "encoding":{"x":{"field":"d","type":"temporal"},"y":{"field":"o","type":"quantitative"},"y2":{"field":"c"},
 "color":{"condition":{"test":"datum.c < datum.o","value":"#000"},"value":"#a8a8a8"}}},
{"data":{"name":"ma"},"mark":{"type":"line","color":"#000","strokeWidth":1.8,"interpolate":"monotone"},
 "encoding":{"x":{"field":"d","type":"temporal"},"y":{"field":"m","type":"quantitative"}}},
{"data":{"name":"ma"},"mark":{"type":"line","color":"#1a1ab8","strokeWidth":1.2,"interpolate":"monotone"},
 "encoding":{"x":{"field":"d","type":"temporal"},"y":{"field":"b","type":"quantitative"}}},
{"data":{"name":"ma"},"mark":{"type":"line","color":"#d01818","strokeWidth":1.2,"interpolate":"monotone"},
 "encoding":{"x":{"field":"d","type":"temporal"},"y":{"field":"r","type":"quantitative"}}},
{"data":{"values":[{}]},"mark":{"type":"text","text":"NZDUSD,Weekly  0.83333 0.85299 0.83063 0.85118","align":"left","baseline":"top","dx":2,"dy":1,"fontSize":4.3,"color":"#000"},
 "encoding":{"x":{"datum":{"year":2007,"month":12,"date":19,"utc":true},"type":"temporal"},"y":{"datum":0.8968,"type":"quantitative"}}},
{"data":{"values":[{}]},"mark":{"type":"rect","color":"#000"},
 "encoding":{"x":{"datum":{"year":2015,"month":10,"date":29,"utc":true},"type":"temporal"},"x2":{"datum":{"year":2016,"month":1,"date":1,"utc":true}},"y":{"datum":0.8540,"type":"quantitative"},"y2":{"datum":0.8435}}},
{"data":{"values":[{}]},"mark":{"type":"text","text":"0.85118","align":"center","baseline":"middle","fontSize":4.4,"color":"#fff"},
 "encoding":{"x":{"datum":{"year":2015,"month":11,"date":30,"utc":true},"type":"temporal"},"y":{"datum":0.84875,"type":"quantitative"}}}
]
},
{
"width":700,"height":84,
"layer":[
{"data":{"name":"vg"},"mark":{"type":"rule","color":"#222","strokeDash":[2,2],"strokeWidth":0.8},
 "encoding":{"x":{"field":"d","type":"temporal","scale":{"type":"utc","domain":[{"year":2007,"month":12,"date":19,"utc":true},{"year":2015,"month":10,"date":21,"utc":true}]},"axis":{"orient":"bottom","labels":false,"ticks":false,"domain":true,"domainColor":"#808080","domainWidth":2,"title":null,"grid":false}}}},
{"data":{"values":[{"v":20},{"v":80}]},"mark":{"type":"rule","color":"#999","strokeDash":[2,2],"strokeWidth":0.8},
 "encoding":{"y":{"field":"v","type":"quantitative","scale":{"domain":[0,100],"nice":false},"axis":{"orient":"right","title":null,"values":[0,20,80,100],"tickCount":100,"format":"d","labelFlush":true,"labelOverlap":false,"grid":false}}}},
{"data":{"name":"osc"},"mark":{"type":"line","color":"#808080","strokeDash":[1.5,1.5],"strokeWidth":0.9},
 "encoding":{"x":{"field":"d","type":"temporal"},"y":{"field":"sd","type":"quantitative"}}},
{"data":{"name":"osc"},"mark":{"type":"line","color":"#5fb0b0","strokeWidth":1},
 "encoding":{"x":{"field":"d","type":"temporal"},"y":{"field":"sk","type":"quantitative"}}},
{"data":{"values":[{}]},"mark":{"type":"text","text":"Stoch(5,3,3) 78.9542 80.7888","align":"left","baseline":"top","dx":2,"dy":1,"fontSize":4.3,"color":"#000"},
 "encoding":{"x":{"datum":{"year":2007,"month":12,"date":19,"utc":true},"type":"temporal"},"y":{"datum":100,"type":"quantitative"}}}
]
},
{
"width":700,"height":66,
"layer":[
{"data":{"name":"vg"},"mark":{"type":"rule","color":"#222","strokeDash":[2,2],"strokeWidth":0.8},
 "encoding":{"x":{"field":"d","type":"temporal","scale":{"type":"utc","domain":[{"year":2007,"month":12,"date":19,"utc":true},{"year":2015,"month":10,"date":21,"utc":true}]},
 "axis":{"orient":"bottom","title":null,"grid":false,"tickCount":100,"values":[{"year":2007,"month":12,"date":23,"utc":true},{"year":2008,"month":4,"date":13,"utc":true},{"year":2008,"month":8,"date":3,"utc":true},{"year":2008,"month":11,"date":23,"utc":true},{"year":2009,"month":3,"date":15,"utc":true},{"year":2009,"month":7,"date":5,"utc":true},{"year":2009,"month":10,"date":25,"utc":true},{"year":2010,"month":2,"date":14,"utc":true},{"year":2010,"month":6,"date":6,"utc":true},{"year":2010,"month":9,"date":26,"utc":true},{"year":2011,"month":1,"date":16,"utc":true},{"year":2011,"month":5,"date":8,"utc":true},{"year":2011,"month":8,"date":28,"utc":true},{"year":2011,"month":12,"date":18,"utc":true},{"year":2012,"month":4,"date":8,"utc":true},{"year":2012,"month":7,"date":29,"utc":true},{"year":2012,"month":11,"date":18,"utc":true},{"year":2013,"month":3,"date":10,"utc":true},{"year":2013,"month":6,"date":30,"utc":true},{"year":2013,"month":10,"date":20,"utc":true},{"year":2014,"month":2,"date":9,"utc":true}],
 "labelExpr":"utcFormat(datum.value, '%-d %b %Y')","labelAlign":"left","labelFontSize":3.6,"labelPadding":1,"tickSize":2,"labelOverlap":false,"labelBound":false,"labelFlush":false}}}},
{"data":{"values":[{"v":30},{"v":40},{"v":60},{"v":70}]},"mark":{"type":"rule","color":"#444","strokeDash":[2,2],"strokeWidth":0.8},
 "encoding":{"y":{"field":"v","type":"quantitative","scale":{"domain":[0,100],"nice":false},"axis":{"orient":"right","title":null,"values":[0,30,40,60,70,100],"tickCount":100,"format":"d","labelFlush":true,"labelOverlap":false,"grid":false}}}},
{"data":{"name":"osc"},"mark":{"type":"line","color":"#111","strokeWidth":0.9},
 "encoding":{"x":{"field":"d","type":"temporal"},"y":{"field":"rsi","type":"quantitative"}}},
{"data":{"values":[{}]},"mark":{"type":"text","text":"RSI(14) 59.6141","align":"left","baseline":"top","dx":2,"dy":1,"fontSize":4.3,"color":"#000"},
 "encoding":{"x":{"datum":{"year":2007,"month":12,"date":19,"utc":true},"type":"temporal"},"y":{"datum":100,"type":"quantitative"}}}
]
}
]
}
